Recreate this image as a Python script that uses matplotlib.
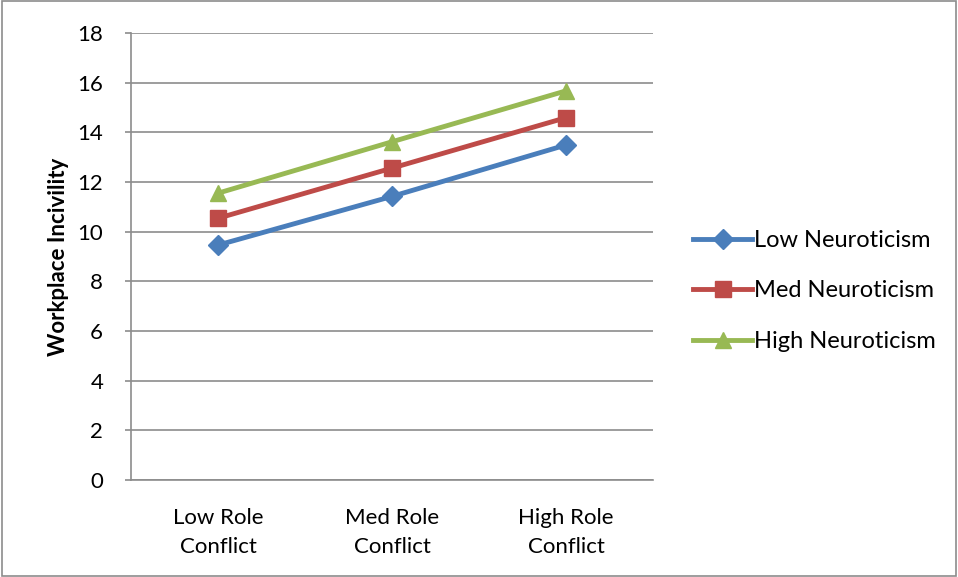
import matplotlib
matplotlib.use('Agg')
import matplotlib.pyplot as plt
from matplotlib.patches import Rectangle

categories = ['Low Role\nConflict', 'Med Role\nConflict', 'High Role\nConflict']
low_neuro = [9.46, 11.42, 13.49]
med_neuro = [10.54, 12.56, 14.59]
high_neuro = [11.55, 13.62, 15.67]
series_names = ['Low Neuroticism', 'Med Neuroticism', 'High Neuroticism']

plt.rcParams['font.family'] = ['Lato', 'DejaVu Sans']

fig = plt.figure(figsize=(9.58, 5.77), dpi=100)
ax = fig.add_axes([131/958, 1 - 480/577, (653-131)/958, (480-33)/577])

# grey border round the whole chart
fig.patches.append(Rectangle((0.002, 0.002), 0.996, 0.996, transform=fig.transFigure,
                             fill=False, edgecolor='#8c8c8c', linewidth=1.2))

x = range(len(categories))
ax.plot(x, low_neuro, color='#4a7ebb', lw=3.5, marker='D', ms=10, label=series_names[0])
ax.plot(x, med_neuro, color='#be4b48', lw=3.5, marker='s', ms=11, label=series_names[1])
ax.plot(x, high_neuro, color='#98b954', lw=3.5, marker='^', ms=12, label=series_names[2])

ax.set_xlim(-0.5, 2.5)
ax.set_ylim(0, 18)
ax.set_yticks(range(0, 19, 2))
ax.set_xticks(list(x))
ax.set_xticklabels(categories, fontsize=16, linespacing=1.6)
ax.tick_params(axis='y', labelsize=16, length=4, width=1.2, color='#8c8c8c', pad=16)
ax.tick_params(axis='x', length=0, pad=20)
ax.yaxis.grid(True, color='#8c8c8c', lw=1.2)
ax.set_axisbelow(True)
for s in ['top', 'right']:
    ax.spines[s].set_visible(False)
for s in ['left', 'bottom']:
    ax.spines[s].set_color('#8c8c8c')
    ax.spines[s].set_linewidth(1.2)

ax.set_ylabel('Workplace Incivility', fontsize=16, fontweight='bold', labelpad=6)

ax.legend(loc='center left', bbox_to_anchor=(1.036, 0.423), frameon=False, fontsize=17,
          handlelength=2.5, labelspacing=1.25, handletextpad=0.1)

fig.savefig('out.png', dpi=100)
